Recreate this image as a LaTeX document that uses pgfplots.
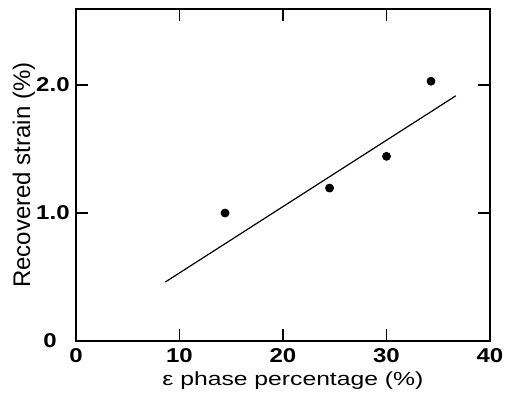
\documentclass[border=0pt]{standalone}
\usepackage{fontspec}
\setmainfont{Liberation Sans}
\usepackage{graphicx}
\usepackage{pgfplots}
\pgfplotsset{compat=1.18}
\newcommand\tl[1]{\scalebox{1.2}[1]{\bfseries #1}}
\begin{document}
\begin{tikzpicture}
\useasboundingbox (-38pt,-26pt) rectangle (216pt,170.5pt);
\begin{axis}[
  at={(0,0)}, anchor=south west,
  scale only axis, width=207pt, height=166pt,
  xmin=0, xmax=40, ymin=0, ymax=2.594,
  xtick={0,10,20,30,40},
  xticklabels={\tl{0},\tl{10},\tl{20},\tl{30},\tl{40}},
  ytick={1,2}, yticklabels={\tl{1.0},\tl{2.0}},
  extra y ticks={0}, extra y tick labels={\tl{0}},
  extra y tick style={major tick length=0pt, yticklabel style={xshift=-6.5pt}},
  tick align=inside, major tick length=6pt,
  axis line style={line width=1.3pt},
  tick style={line width=0.6pt, black},
  ticklabel style={font=\fontsize{10}{12}\selectfont, inner sep=1pt},
  xticklabel style={yshift=-2.5pt},
  yticklabel style={xshift=-2pt},
  xlabel={\scalebox{1.3}[1]{ε phase percentage (\%)}},
  ylabel={Recovered strain (\%)},
  xlabel style={font=\fontsize{9.5}{11}\selectfont, inner sep=0pt, at={(axis description cs:0.524,-0.1325)}, anchor=base},
  ylabel style={font=\fontsize{12}{14}\selectfont, at={(axis description cs:-0.1256,0.5)}, anchor=center},
]
\addplot[only marks, mark=*, mark size=2pt, black] coordinates {
  (14.4,1.0) (24.5,1.195) (30.0,1.443) (34.3,2.03)
};
\addplot[black, line width=0.6pt] coordinates {
  (8.63,0.461) (36.7,1.916)
};
\end{axis}
\end{tikzpicture}
\end{document}
